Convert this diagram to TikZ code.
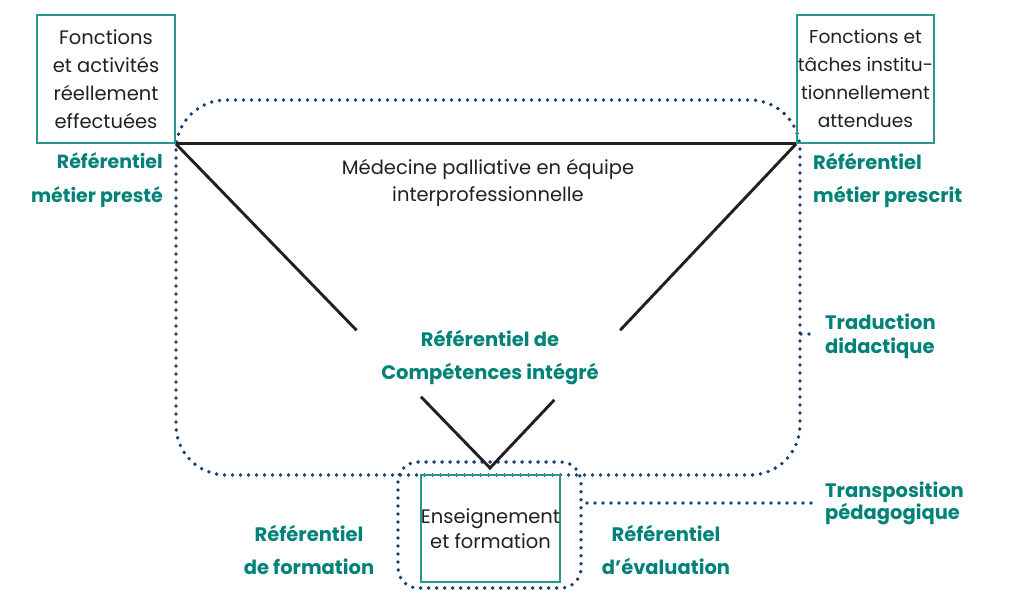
\documentclass[tikz,border=0pt]{standalone}
\usepackage{fontspec}
\setmainfont{Poppins}
\usetikzlibrary{calc}
\definecolor{tealtext}{RGB}{0,130,120}
\definecolor{tealbox}{RGB}{40,152,142}
\definecolor{navy}{RGB}{22,62,112}
\definecolor{ink}{RGB}{35,31,32}
\begin{document}
\begin{tikzpicture}[x=1pt,y=-1pt,
  box/.style={draw=tealbox, line width=1.8pt, text=ink, align=center, inner sep=0pt,
    font=\fontsize{19.5}{28}\selectfont},
  tri/.style={draw=ink, line width=2.9pt},
  dots/.style={draw=navy, line width=3.8pt, line cap=round, dash pattern=on 0pt off 8pt},
  lbl/.style={text=tealtext, inner sep=0pt, font=\bfseries\fontsize{19.5}{33}\selectfont},
  plain/.style={text=ink, inner sep=0pt, align=center, font=\fontsize{19.5}{27}\selectfont}]
\useasboundingbox (0,0) rectangle (1010,597);

% dotted frames: didactic translation and pedagogical transposition
\draw[dots, rounded corners=50pt] (176,100) rectangle (800,475);
\draw[dots, rounded corners=20pt] (398,462) rectangle (581,588);

% the three reference boxes
\node[box, minimum width=138pt, minimum height=128pt] (lbox) at (106,79)
  {Fonctions\\et activités\\réellement\\effectuées};
\node[box, minimum width=137pt, minimum height=128pt, font=\fontsize{18.6}{28}\selectfont] (rbox) at (865.5,79)
  {Fonctions et\\tâches institu-\\tionnellement\\attendues};
\node[box, minimum width=139pt, minimum height=107pt, font=\fontsize{19.5}{25}\selectfont] (ens) at (490.5,528.5)
  {Enseignement\\et formation};

% competence triangle, open around the central label
\coordinate (A) at (lbox.south east);
\coordinate (B) at (rbox.south west);
\coordinate (C) at (490,468);
\draw[tri] (A) -- (B);
\draw[tri] (A) -- ($(A)!0.575!(C)$);
\draw[tri] (B) -- ($(B)!0.575!(C)$);
\draw[tri] ($(A)!0.78!(C)$) -- (C) -- ($(B)!0.79!(C)$);

% labels
\node[plain] (med) at (488,183) {Médecine palliative en équipe\\interprofessionnelle};
\node[lbl, align=center] (rci) at (490,358) {Référentiel de\\Compétences intégré};
\node[lbl, align=right, anchor=east, font=\bfseries\fontsize{19}{34}\selectfont] (presté) at (163,180) {Référentiel\\métier presté};
\node[lbl, align=left, anchor=west] (prescrit) at (813,180) {Référentiel\\métier prescrit};
\node[lbl, align=center] (form) at (309,550) {Référentiel\\de formation};
\node[lbl, align=center] (eval) at (666,550) {Référentiel\\d’évaluation};
\node[lbl, align=left, anchor=west, font=\bfseries\fontsize{19.5}{24}\selectfont] (trad) at (825,336) {Traduction\\didactique};
\node[lbl, align=left, anchor=west, font=\bfseries\fontsize{19.5}{22}\selectfont] (transp) at (825,503) {Transposition\\pédagogique};

% leaders to the side labels
\coordinate (tradfoot) at (801,334);
\coordinate (transpfoot) at (587,503);
\draw[dots] (tradfoot) -- ($(trad.west)+(-10,-2)$);
\draw[dots] (transpfoot) -- ($(transp.west)+(-13,0)$);
\end{tikzpicture}
\end{document}
